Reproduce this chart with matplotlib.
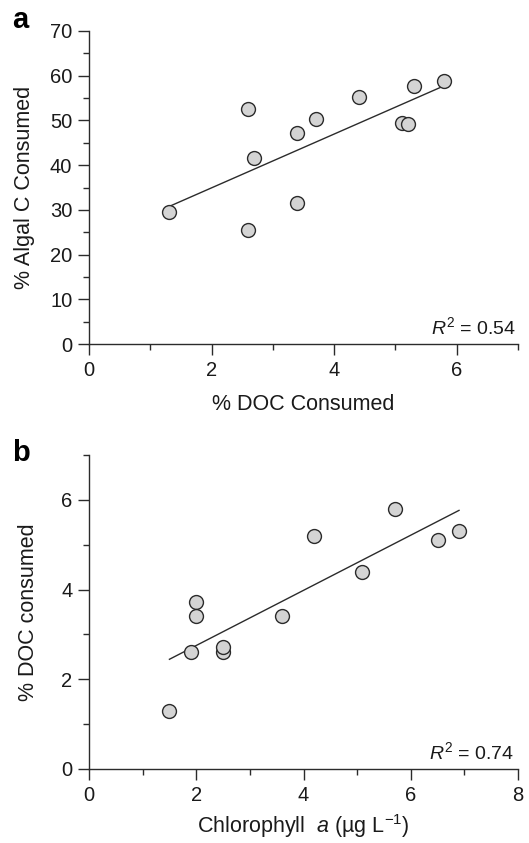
import numpy as np
import matplotlib
matplotlib.use("Agg")
import matplotlib.pyplot as plt

plt.rcParams['font.family'] = ['Liberation Sans', 'DejaVu Sans']
plt.rcParams['mathtext.fontset'] = 'custom'
plt.rcParams['mathtext.rm'] = 'Liberation Sans'
plt.rcParams['mathtext.it'] = 'Liberation Sans:italic'

# panel a: % DOC consumed vs % algal C consumed
doc_a = [1.3, 2.6, 2.6, 2.7, 3.4, 3.4, 3.7, 4.4, 5.1, 5.2, 5.3, 5.8]
algal_a = [29.5, 52.5, 25.4, 41.5, 47.1, 31.6, 50.3, 55.2, 49.5, 49.1, 57.8, 58.9]
r2_a = "0.54"

# panel b: chlorophyll a vs % DOC consumed
chl_b = [1.5, 1.9, 2.0, 2.0, 2.5, 2.5, 3.6, 4.2, 5.1, 5.7, 6.5, 6.9]
doc_b = [1.30, 2.61, 3.72, 3.41, 2.61, 2.71, 3.41, 5.20, 4.40, 5.80, 5.10, 5.31]
r2_b = "0.74"

edge = '#2b2b2b'
txt = '#1a1a1a'
W, H = 529, 843
fig = plt.figure(figsize=(W / 100, H / 100), dpi=100)

def make_ax(left, top, right, bottom):
    return fig.add_axes([left / W, 1 - bottom / H, (right - left) / W, (bottom - top) / H])

def style(ax):
    for s in ['top', 'right']:
        ax.spines[s].set_visible(False)
    for s in ['left', 'bottom']:
        ax.spines[s].set_color(edge)
        ax.spines[s].set_linewidth(1.0)
    ax.tick_params(which='major', direction='out', length=8, width=1, color=edge,
                   labelsize=14.5, labelcolor=txt, pad=4)
    ax.tick_params(which='minor', direction='out', length=4, width=1, color=edge)

def scatter_fit(ax, x, y):
    x = np.array(x)
    y = np.array(y)
    m, b = np.polyfit(x, y, 1)
    xx = np.array([x.min(), x.max()])
    ax.plot(xx, m * xx + b, color=edge, lw=1.0, zorder=2)
    ax.plot(x, y, 'o', ms=10, mfc='#d4d4d4', mec=edge, mew=1.0, zorder=3, clip_on=False)

def place_labels(ax, xl, yl, height):
    # label centres in pixels, relative to the axes box
    ax.xaxis.set_label_coords(0.5, xl / height)
    ax.yaxis.set_label_coords(yl / 429, 0.5)
    ax.xaxis.label.set_va('center')
    ax.yaxis.label.set_va('center')

# ---- panel a
ax1 = make_ax(89, 31, 518, 344)
style(ax1)
scatter_fit(ax1, doc_a, algal_a)
ax1.set_xlim(0, 7)
ax1.set_ylim(0, 70)
ax1.set_xticks([0, 2, 4, 6])
ax1.set_xticks([1, 3, 5, 7], minor=True)
ax1.set_yticks(range(0, 71, 10))
ax1.set_yticks(range(5, 70, 10), minor=True)
ax1.set_xlabel('% DOC Consumed', fontsize=15.5, color=txt)
ax1.set_ylabel('% Algal C Consumed', fontsize=15.5, color=txt)
place_labels(ax1, -60, -64, 313)
ax1.text(0.995, 0.02, '$R^2$ = ' + r2_a, transform=ax1.transAxes, ha='right', va='bottom',
         fontsize=14, color=txt)
fig.text(12 / W, 1 - 20 / H, 'a', fontsize=21, fontweight='bold', va='center', ha='left')

# ---- panel b
ax2 = make_ax(89, 455, 518, 769)
style(ax2)
scatter_fit(ax2, chl_b, doc_b)
ax2.set_xlim(0, 8)
ax2.set_ylim(0, 7)
ax2.set_xticks([0, 2, 4, 6, 8])
ax2.set_xticks([1, 3, 5, 7], minor=True)
ax2.set_yticks([0, 2, 4, 6])
ax2.set_yticks([1, 3, 5, 7], minor=True)
ax2.set_xlabel('Chlorophyll  $\\it{a}$ (µg L$^{-1}$)', fontsize=15.5, color=txt)
ax2.set_ylabel('% DOC consumed', fontsize=15.5, color=txt)
place_labels(ax2, -57, -61, 314)
ax2.text(0.99, 0.02, '$R^2$ = ' + r2_b, transform=ax2.transAxes, ha='right', va='bottom',
         fontsize=14, color=txt)
fig.text(12 / W, 1 - 453 / H, 'b', fontsize=21, fontweight='bold', va='center', ha='left')

fig.savefig('out.png', dpi=100)
